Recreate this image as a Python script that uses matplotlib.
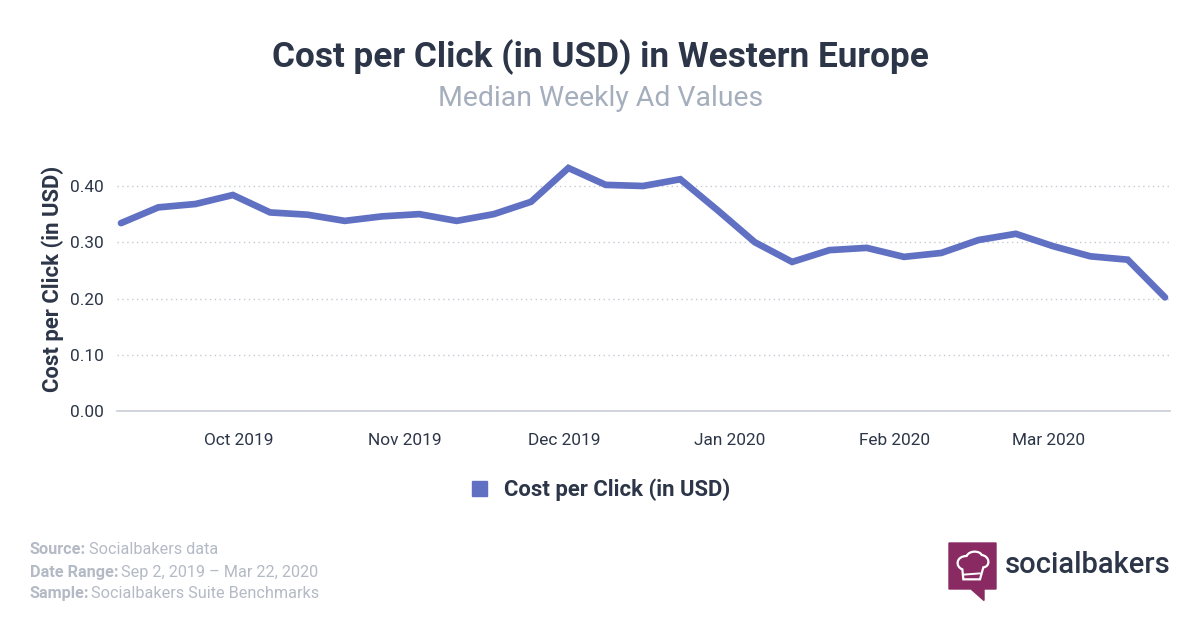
import matplotlib
matplotlib.use("Agg")
import matplotlib.pyplot as plt
from matplotlib.patches import Polygon, Rectangle, PathPatch
from matplotlib.path import Path
import pandas as pd

dates = pd.date_range("2019-09-02", periods=29, freq="7D")
values = [0.334,0.362,0.368,0.384,0.353,0.349,0.338,0.346,0.350,0.338,0.350,0.372,0.432,0.402,0.400,0.412,0.357,0.300,0.265,0.286,0.290,0.274,0.281,0.304,0.315,0.293,0.275,0.269,0.202]
yticks = [0,0.1,0.2,0.3,0.4]
month_starts = pd.to_datetime(["2019-10-01","2019-11-01","2019-12-01","2020-01-01","2020-02-01","2020-03-01"])
xlabels = ["Oct 2019","Nov 2019","Dec 2019","Jan 2020","Feb 2020","Mar 2020"]

plt.rcParams['font.family'] = ['Roboto','DejaVu Sans']
W,H=1200,631
fig=plt.figure(figsize=(12,6.31),dpi=100,facecolor='white')
L,R,T,B=117,1170,150,411
ax=fig.add_axes([L/W,1-B/H,(R-L)/W,(B-T)/H])
C='#6070c2'
ax.plot(dates,values,color=C,lw=4.8,solid_joinstyle='miter',solid_capstyle='round',clip_on=False)
ax.set_xlim(dates[0]-pd.Timedelta(days=0.75),dates[-1]+pd.Timedelta(days=0.94))
ax.set_ylim(0,0.464)
ax.set_yticks(yticks,[f"{v:.2f}" for v in yticks])
# the reference's category axis centres month labels about a week ahead of the month start
ax.set_xticks(month_starts-pd.Timedelta(days=6.8),xlabels)
ax.tick_params(length=0,labelsize=12.4,labelcolor='#2c3648')
ax.tick_params(axis='x',pad=15.5)
ax.tick_params(axis='y',pad=9.5)
ax.grid(axis='y',color='#c4cad3',ls=(0,(1,2.5)),lw=1)
ax.set_axisbelow(True)
for s in ['top','left','right']: ax.spines[s].set_visible(False)
ax.spines['bottom'].set_color('#c9ced6'); ax.spines['bottom'].set_linewidth(1.2)
ax.set_ylabel("Cost per Click (in USD)",fontsize=15.9,fontweight='bold',color='#2c3648',labelpad=0)
ax.yaxis.set_label_coords((64-L)/(R-L),0.5-(279-(T+B)/2)/(B-T))

def t(x,y,s,**k):
    return fig.text(x/W,1-y/H,s,**k)
t(600,57,"Cost per Click (in USD) in Western Europe",ha='center',va='center',fontsize=25.3,fontweight='bold',color='#2c3648')
t(601,98,"Median Weekly Ad Values",ha='center',va='center',fontsize=20.4,color='#a5aebc')
fig.add_artist(Rectangle((472/W,1-496/H),15/W,15/H,transform=fig.transFigure,color=C))
t(504,489.5,"Cost per Click (in USD)",ha='left',va='center',fontsize=15.9,fontweight='bold',color='#2c3648')
G='#b4bac5'
for y,a,b,x in [(550,"Source:","Socialbakers data",89),(572,"Date Range:","Sep 2, 2019 – Mar 22, 2020",121),(593.5,"Sample:","Socialbakers Suite Benchmarks",91)]:
    t(30,y,a,ha='left',va='center',fontsize=11.7,fontweight='bold',color=G)
    t(x,y,b,ha='left',va='center',fontsize=11.7,color=G)
# logo
def P(x,y): return (x/W,1-y/H)
pts=[(949,543),(996,543),(996,589),(984,589),(984,600.5),(971,589),(949,589)]
fig.add_artist(Polygon([P(x,y) for x,y in pts],transform=fig.transFigure,color='#8a2a63'))
def Z(zx,zy): return P(930+zx/3,530+zy/3)
hat=[(100,148),(97,118),(75,110),(78,78),(110,78),(118,60),(150,62),(155,75),(180,78),(182,110),(160,112),(150,148),(100,148)]
codes=[Path.MOVETO,Path.LINETO,Path.CURVE4,Path.CURVE4,Path.CURVE4,Path.CURVE4,Path.CURVE4,Path.CURVE4,Path.CURVE4,Path.CURVE4,Path.CURVE4,Path.LINETO,Path.CLOSEPOLY]
fig.add_artist(PathPatch(Path([Z(*p) for p in hat],codes),transform=fig.transFigure,fc='none',ec='white',lw=1.6))
fig.add_artist(PathPatch(Path([Z(99,134),Z(152,130)],[Path.MOVETO,Path.LINETO]),transform=fig.transFigure,fc='none',ec='white',lw=1.4))
t(1005,565,"socialbakers",ha='left',va='center',fontsize=21,fontweight='medium',color='#2c3648')
fig.savefig("out.png",dpi=100)
